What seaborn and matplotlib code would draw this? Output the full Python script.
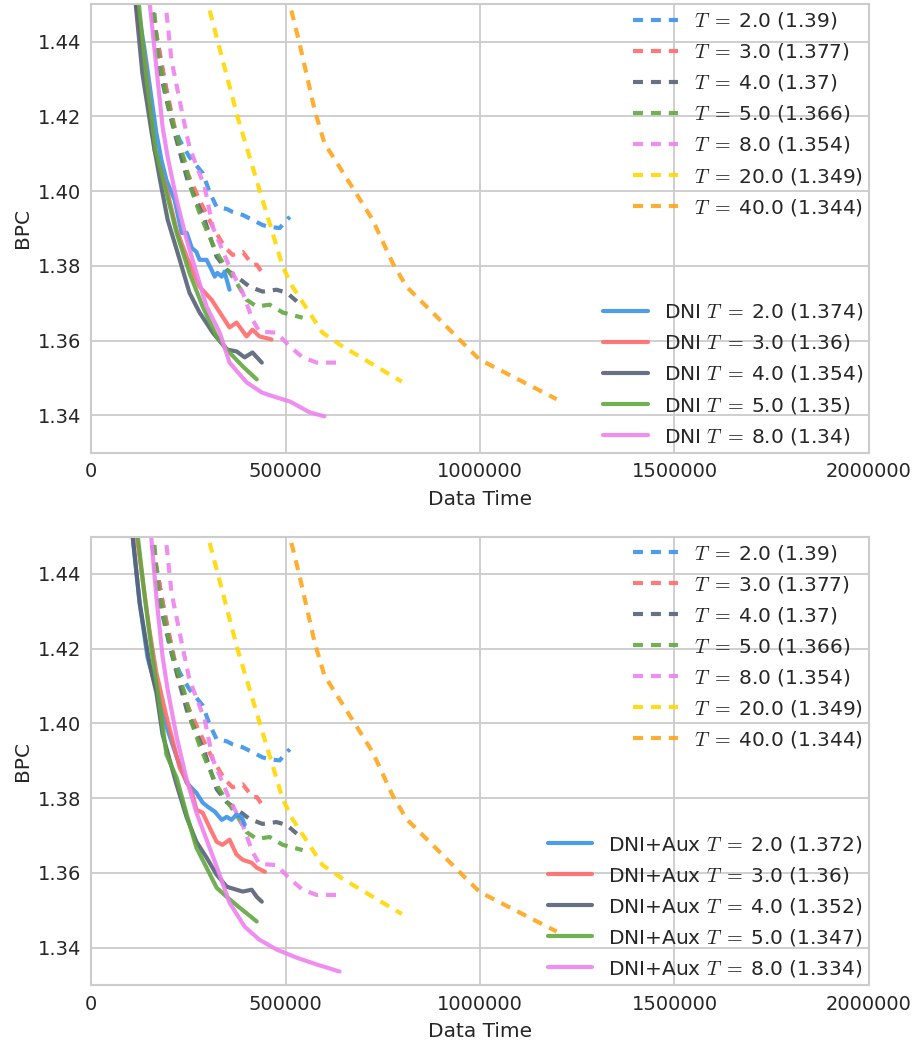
import matplotlib
matplotlib.use("Agg")
import matplotlib.pyplot as plt
import seaborn as sns

# baseline runs (dashed), same in both panels
base_labels = ["2.0 (1.39)", "3.0 (1.377)", "4.0 (1.37)", "5.0 (1.366)",
               "8.0 (1.354)", "20.0 (1.349)", "40.0 (1.344)"]

base_t2_x = [158000, 189000, 210000, 228000, 253000, 287000, 305000, 323000, 349000, 364000,
             390000, 415000, 441000, 459000, 485000, 498000, 511000]
base_t2_y = [1.4477, 1.4296, 1.4181, 1.4136, 1.4091, 1.4048, 1.3997, 1.3957, 1.3952, 1.3944,
             1.3936, 1.3923, 1.3909, 1.3904, 1.3901, 1.3917, 1.3931]

base_t3_x = [158000, 189000, 222000, 248000, 279000, 313000, 343000, 364000, 390000, 415000,
             426000, 447000]
base_t3_y = [1.4477, 1.4296, 1.4136, 1.4048, 1.3976, 1.3904, 1.3851, 1.3829, 1.3837, 1.3803,
             1.3803, 1.3771]

base_t4_x = [158000, 171000, 202000, 222000, 248000, 292000, 323000, 349000, 374000, 408000,
             441000, 477000, 503000, 529000]
base_t4_y = [1.4477, 1.4349, 1.4208, 1.4128, 1.4029, 1.3923, 1.3824, 1.3789, 1.3771, 1.3744,
             1.3731, 1.3736, 1.3728, 1.3705]

base_t5_x = [163000, 171000, 194000, 215000, 240000, 261000, 279000, 300000, 323000, 351000,
             374000, 400000, 426000, 459000, 493000, 544000]
base_t5_y = [1.4477, 1.4376, 1.4251, 1.4163, 1.4083, 1.3995, 1.3941, 1.3888, 1.3835, 1.3789,
             1.3755, 1.3709, 1.3691, 1.3696, 1.3675, 1.3661]

base_t8_x = [194000, 207000, 233000, 253000, 292000, 313000, 356000, 390000, 415000, 433000,
             477000, 511000, 544000, 580000, 631000]
base_t8_y = [1.4477, 1.4349, 1.4216, 1.4117, 1.4011, 1.3904, 1.3797, 1.3728, 1.3656, 1.3624,
             1.3621, 1.3584, 1.3555, 1.3541, 1.3541]

base_t20_x = [305000, 377000, 441000, 493000, 518000, 595000, 647000, 799000]
base_t20_y = [1.4483, 1.4197, 1.3976, 1.3797, 1.3744, 1.3621, 1.3584, 1.3490]

base_t40_x = [515000, 536000, 575000, 600000, 673000, 724000, 775000, 811000, 878000, 965000,
              999000, 1197000]
base_t40_y = [1.4483, 1.4395, 1.4216, 1.4128, 1.4008, 1.3923, 1.3808, 1.3744, 1.3675, 1.3584,
              1.3549, 1.3443]

# DNI runs (top panel, solid)
dni_labels = ["2.0 (1.374)", "3.0 (1.36)", "4.0 (1.354)", "5.0 (1.35)", "8.0 (1.34)"]

dni_t2_x = [115000, 138000, 150000, 168000, 181000, 194000, 202000, 215000, 233000, 246000,
            259000, 271000, 279000, 297000, 310000, 318000, 325000, 336000, 343000, 351000, 356000]
dni_t2_y = [1.4520, 1.4376, 1.4288, 1.4155, 1.4083, 1.4029, 1.4008, 1.3976, 1.3888, 1.3888,
            1.3848, 1.3837, 1.3816, 1.3816, 1.3789, 1.3771, 1.3781, 1.3771, 1.3784, 1.3755, 1.3736]

dni_t3_x = [113000, 138000, 163000, 197000, 220000, 246000, 279000, 310000, 338000, 356000,
            374000, 400000, 415000, 433000, 464000]
dni_t3_y = [1.4520, 1.4349, 1.4109, 1.3995, 1.3896, 1.3824, 1.3744, 1.3709, 1.3664, 1.3635,
            1.3648, 1.3611, 1.3629, 1.3611, 1.3603]

dni_t4_x = [113000, 132000, 156000, 176000, 197000, 228000, 253000, 279000, 313000, 349000,
            374000, 395000, 415000, 439000]
dni_t4_y = [1.4520, 1.4315, 1.4155, 1.4037, 1.3923, 1.3816, 1.3728, 1.3675, 1.3621, 1.3576,
            1.3571, 1.3555, 1.3568, 1.3541]

dni_t5_x = [121000, 143000, 166000, 194000, 220000, 253000, 287000, 323000, 356000, 390000, 426000]
dni_t5_y = [1.4520, 1.4296, 1.4109, 1.3995, 1.3888, 1.3781, 1.3691, 1.3611, 1.3568, 1.3531, 1.3496]

dni_t8_x = [149000, 168000, 184000, 197000, 220000, 246000, 271000, 297000, 331000, 356000,
            400000, 439000, 467000, 511000, 562000, 600000]
dni_t8_y = [1.4520, 1.4331, 1.4171, 1.4091, 1.3976, 1.3869, 1.3781, 1.3691, 1.3621, 1.3541,
            1.3488, 1.3461, 1.3451, 1.3437, 1.3408, 1.3397]

# DNI+Aux runs (bottom panel, solid)
aux_labels = ["2.0 (1.372)", "3.0 (1.36)", "4.0 (1.352)", "5.0 (1.347)", "8.0 (1.334)"]

aux_t2_x = [105000, 125000, 145000, 168000, 194000, 220000, 246000, 271000, 287000, 300000,
            318000, 336000, 349000, 361000, 374000, 387000, 395000]
aux_t2_y = [1.4520, 1.4322, 1.4178, 1.4090, 1.3991, 1.3911, 1.3841, 1.3814, 1.3788, 1.3777,
            1.3764, 1.3742, 1.3750, 1.3742, 1.3756, 1.3750, 1.3729]

aux_t3_x = [115000, 150000, 168000, 194000, 228000, 241000, 259000, 271000, 287000, 305000,
            323000, 338000, 356000, 374000, 390000, 413000, 426000, 447000]
aux_t3_y = [1.4520, 1.4250, 1.4135, 1.4018, 1.3881, 1.3855, 1.3817, 1.3769, 1.3761, 1.3721,
            1.3683, 1.3675, 1.3689, 1.3649, 1.3635, 1.3627, 1.3614, 1.3603]

aux_t4_x = [105000, 125000, 150000, 168000, 184000, 220000, 246000, 271000, 297000, 323000,
            349000, 374000, 390000, 413000, 426000, 439000]
aux_t4_y = [1.4520, 1.4322, 1.4162, 1.4082, 1.3970, 1.3836, 1.3748, 1.3683, 1.3641, 1.3595,
            1.3563, 1.3555, 1.3550, 1.3555, 1.3536, 1.3523]

aux_t5_x = [118000, 138000, 158000, 176000, 194000, 220000, 246000, 271000, 297000, 323000,
            351000, 382000, 426000]
aux_t5_y = [1.4520, 1.4339, 1.4178, 1.4055, 1.3916, 1.3855, 1.3756, 1.3667, 1.3614, 1.3560,
            1.3534, 1.3507, 1.3470]

aux_t8_x = [153000, 168000, 184000, 197000, 220000, 246000, 271000, 297000, 323000, 356000,
            395000, 433000, 477000, 529000, 580000, 639000]
aux_t8_y = [1.4520, 1.4338, 1.4178, 1.4090, 1.3964, 1.3849, 1.3761, 1.3689, 1.3617, 1.3520,
            1.3456, 1.3421, 1.3395, 1.3373, 1.3355, 1.3336]

colors = ["#3a92e8", "#ff6b6b", "#566276", "#62a840", "#ee82ee", "#ffd700", "#ffa51a"]

sns.set_style("whitegrid")
plt.rcParams["mathtext.fontset"] = "cm"
plt.rcParams["font.family"] = ["DejaVu Sans"]

base_series = [(base_t2_x, base_t2_y), (base_t3_x, base_t3_y), (base_t4_x, base_t4_y),
               (base_t5_x, base_t5_y), (base_t8_x, base_t8_y), (base_t20_x, base_t20_y),
               (base_t40_x, base_t40_y)]
dni_series = [(dni_t2_x, dni_t2_y), (dni_t3_x, dni_t3_y), (dni_t4_x, dni_t4_y),
              (dni_t5_x, dni_t5_y), (dni_t8_x, dni_t8_y)]
aux_series = [(aux_t2_x, aux_t2_y), (aux_t3_x, aux_t3_y), (aux_t4_x, aux_t4_y),
              (aux_t5_x, aux_t5_y), (aux_t8_x, aux_t8_y)]

fig, axs = plt.subplots(2, 1, figsize=(9.15, 10.44), dpi=100)
fig.subplots_adjust(left=0.0995, right=0.9497, top=0.996, bottom=0.0565, hspace=0.187)

lw = 3.0
panels = [(axs[0], dni_series, dni_labels, "DNI"), (axs[1], aux_series, aux_labels, "DNI+Aux")]

for ax, series, labels, prefix in panels:
    base_lines = []
    for (xs, ys), lab, c in zip(base_series, base_labels, colors):
        sns.lineplot(x=xs, y=ys, ax=ax, color=c, linewidth=lw, alpha=0.9, sort=False,
                     estimator=None, linestyle=(0, (2.4, 1.9)))
        base_lines.append((ax.lines[-1], r"$T\;=\;$" + lab))
    run_lines = []
    for (xs, ys), lab, c in zip(series, labels, colors):
        sns.lineplot(x=xs, y=ys, ax=ax, color=c, linewidth=lw, alpha=0.9, sort=False,
                     estimator=None)
        run_lines.append((ax.lines[-1], prefix + r" $T\;=\;$" + lab))

    ax.set_xlim(0, 2000000)
    ax.set_ylim(1.33, 1.45)
    ax.set_xticks([0, 500000, 1000000, 1500000, 2000000])
    ax.set_xticklabels(["0", "500000", "1000000", "1500000", "2000000"])
    ax.set_yticks([1.34, 1.36, 1.38, 1.40, 1.42, 1.44])
    ax.set_yticklabels(["1.34", "1.36", "1.38", "1.40", "1.42", "1.44"])
    ax.tick_params(labelsize=14, pad=7, length=0)
    ax.set_xlabel("Data Time", fontsize=14.5, labelpad=6)
    ax.set_ylabel("BPC", fontsize=14.5)
    for s in ax.spines.values():
        s.set_color("#cccccc")
        s.set_linewidth(1.5)
    ax.grid(color="#cccccc", lw=1.3)

    leg1 = ax.legend([l for l, _ in base_lines], [t for _, t in base_lines], loc="upper right",
                     frameon=False, fontsize=14.5, borderaxespad=0.0, borderpad=0.3,
                     labelspacing=0.5, handlelength=2.2, handletextpad=0.8)
    ax.add_artist(leg1)
    ax.legend([l for l, _ in run_lines], [t for _, t in run_lines], loc="lower right",
              frameon=False, fontsize=14.5, borderaxespad=0.0, borderpad=0.3,
              labelspacing=0.5, handlelength=2.2, handletextpad=0.8)

fig.savefig("out.png", dpi=100)
